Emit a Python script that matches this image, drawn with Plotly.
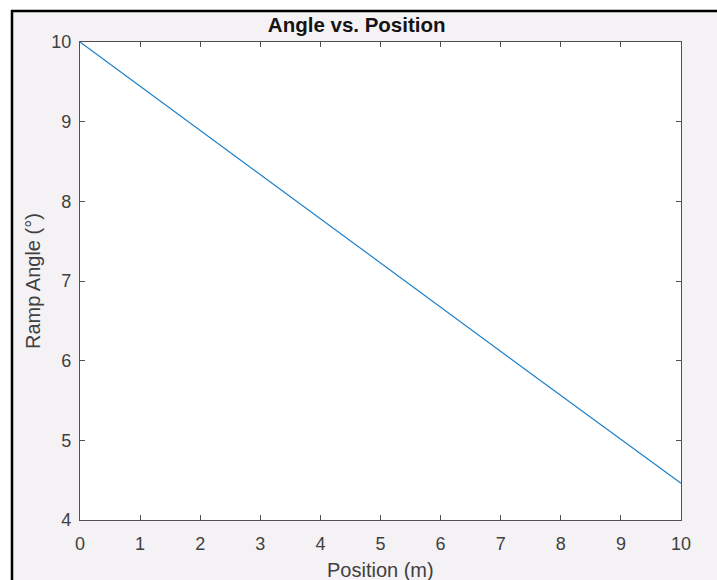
import plotly.graph_objects as go

# Data
position_m = [0, 2.5, 5, 7.5, 10]
ramp_angle_deg = [10.0, 8.61, 7.23, 5.84, 4.46]

x_ticks = list(range(0, 11))
y_ticks = [4, 5, 6, 7, 8, 9, 10]

W, H = 717, 580
L, R, T, B = 80, 36, 42, 60
pw, ph = W - L - R, H - T - B

def px(xp):
    return (xp - L) / pw

def py(yp):
    return (H - B - yp) / ph

FONT = "Liberation Sans, Arial, Helvetica, sans-serif"
AX = "#505050"

fig = go.Figure()
fig.add_trace(go.Scatter(x=position_m, y=ramp_angle_deg, mode="lines",
                         line=dict(color="#1F80C8", width=1.2), showlegend=False))

axis_common = dict(showline=True, linecolor=AX, linewidth=1.3, mirror="ticks",
                   ticks="inside", ticklen=5, tickwidth=1.2, tickcolor=AX,
                   showgrid=False, zeroline=False,
                   tickfont=dict(family=FONT, size=18, color="#404040"))

fig.update_xaxes(range=[0, 10], tickvals=x_ticks, ticklabelstandoff=7, **axis_common)
fig.update_yaxes(range=[4, 10], tickvals=y_ticks, ticklabelstandoff=4, **axis_common)

fig.update_layout(
    width=W, height=H,
    margin=dict(l=L, r=R, t=T, b=B, pad=0),
    paper_bgcolor="#F5F2F5", plot_bgcolor="white",
    title=dict(text="<b>Angle vs. Position</b>", x=px(379), xanchor="center",
               y=1 - 25 / H, yanchor="middle", yref="container",
               font=dict(family=FONT, size=20.5, color="#141414")),
    annotations=[
        dict(text="Position (m)", x=0.5, y=py(570), xref="paper", yref="paper",
             xanchor="center", yanchor="middle", showarrow=False,
             font=dict(family=FONT, size=20, color="#404040")),
        dict(text="Ramp Angle (°)", x=px(33), y=py(281), xref="paper", yref="paper",
             xanchor="center", yanchor="middle", showarrow=False, textangle=-90,
             font=dict(family=FONT, size=20, color="#404040")),
    ],
    shapes=[
        dict(type="rect", xref="paper", yref="paper", x0=px(-5), x1=px(730),
             y0=py(-5), y1=py(10), fillcolor="white", line=dict(width=0)),
        dict(type="rect", xref="paper", yref="paper", x0=px(-5), x1=px(11),
             y0=py(-5), y1=py(600), fillcolor="white", line=dict(width=0)),
        dict(type="line", xref="paper", yref="paper", x0=px(11), x1=px(730),
             y0=py(11), y1=py(11), line=dict(color="black", width=2.5)),
        dict(type="line", xref="paper", yref="paper", x0=px(12), x1=px(12),
             y0=py(10), y1=py(600), line=dict(color="black", width=2.5)),
    ],
)

fig.write_html("out.html")
